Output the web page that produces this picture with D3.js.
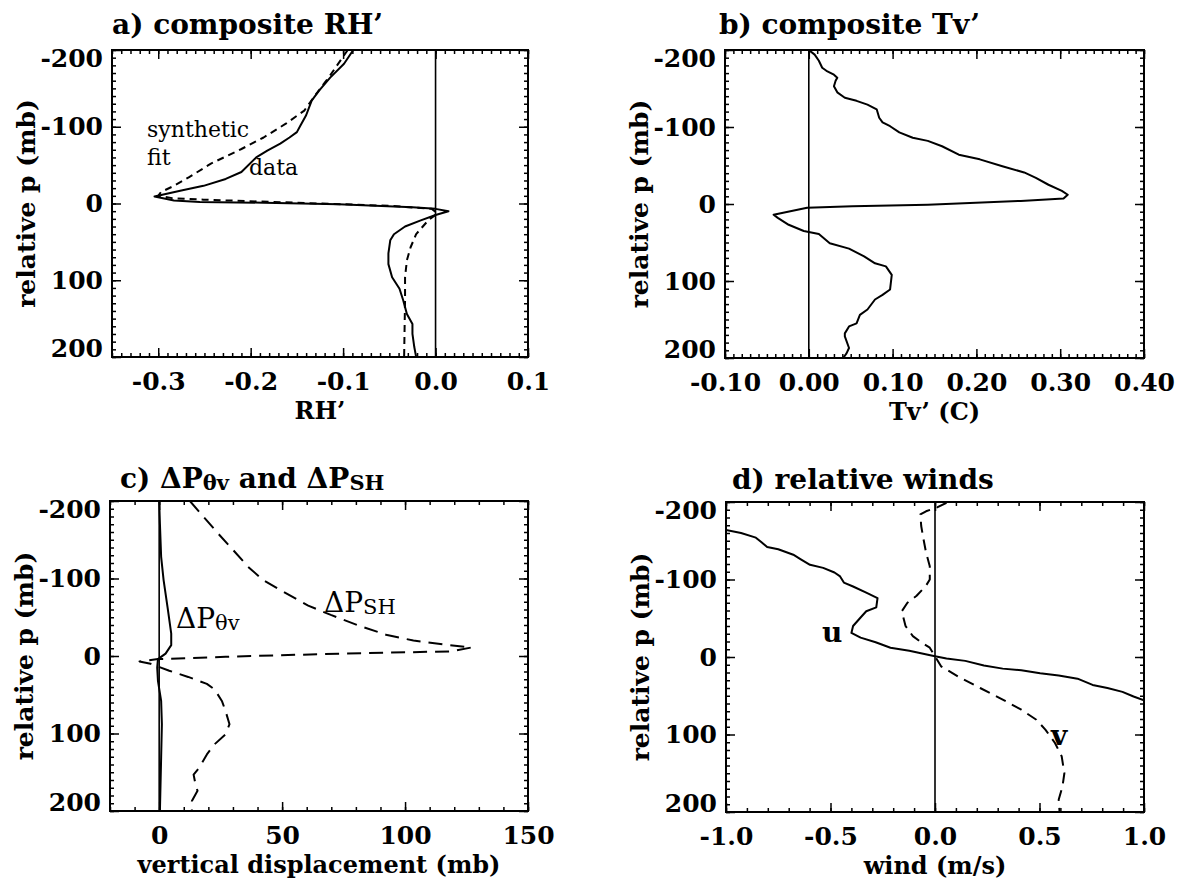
<!DOCTYPE html>
<html>
<head>
<meta charset="utf-8">
<script src="https://cdn.jsdelivr.net/npm/d3@7"></script>
<style>
  body { margin: 0; background: #fff; }
  svg { display: block; }
  text { font-family: "DejaVu Serif", "Liberation Serif", serif; fill: #000; }
</style>
</head>
<body>
<svg id="fig" width="1178" height="886"></svg>
<script>
// ---- pressure axis (shared by all four panels) ----
const pMajor = [-200, -100, 0, 100, 200];
const pLabels = ["-200", "-100", "0", "100", "200"];

// ---- a) composite RH' : [RH', relative p] ----
const rhData = [[-0.089,-200],[-0.099,-182],[-0.114,-164],[-0.126,-147],[-0.134,-134],[-0.140,-115],
  [-0.146,-102],[-0.150,-93],[-0.158,-86],[-0.168,-78],[-0.182,-69],[-0.194,-60],[-0.210,-41],
  [-0.227,-32],[-0.251,-23],[-0.275,-17],[-0.304,-9],[-0.283,-4],[-0.255,-2],[-0.186,-1],
  [-0.105,1],[-0.025,5],[0,7],[0.014,10],[0,15],[-0.016,22],[-0.033,30],[-0.045,40],[-0.049,48],
  [-0.051,65],[-0.051,79],[-0.047,96],[-0.039,111],[-0.035,126],[-0.031,144],[-0.025,157],
  [-0.025,170],[-0.023,187],[-0.021,200]];
const rhFit = [[-0.095,-200],[-0.114,-167],[-0.132,-138],[-0.142,-121],[-0.162,-104],[-0.186,-86],
  [-0.210,-71],[-0.243,-52],[-0.267,-34],[-0.283,-23],[-0.297,-15],[-0.300,-10],[-0.285,-7],
  [-0.251,-5],[-0.150,-1],[-0.050,3],[-0.004,7],[0.002,13],[-0.008,22],[-0.021,40],[-0.027,57],
  [-0.031,74],[-0.033,96],[-0.033,126],[-0.034,200]];
const rhTicks = [-0.3, -0.2, -0.1, 0.0, 0.1];
const rhTickLabels = ["-0.3", "-0.2", "-0.1", "0.0", "0.1"];

// ---- b) composite Tv' : [Tv' (C), relative p] ----
const tvData = [[0,-200],[0.007,-194],[0.012,-186],[0.016,-177],[0.021,-173],[0.030,-168],[0.034,-164],
  [0.032,-160],[0.030,-153],[0.034,-145],[0.043,-138],[0.057,-134],[0.070,-129],[0.081,-123],
  [0.084,-112],[0.088,-106],[0.097,-101],[0.108,-93],[0.124,-86],[0.142,-82],[0.159,-75],
  [0.179,-64],[0.204,-58],[0.231,-49],[0.257,-41],[0.271,-34],[0.286,-25],[0.302,-17],[0.309,-12],
  [0.304,-7],[0.253,-4],[0.142,1],[0.052,3],[-0.002,5],[-0.042,14],[-0.037,18],[-0.024,27],
  [-0.006,35],[0.012,39],[0.025,51],[0.048,58],[0.066,68],[0.079,77],[0.092,81],[0.099,92],
  [0.097,111],[0.088,118],[0.079,124],[0.070,137],[0.061,144],[0.057,155],[0.048,159],[0.043,168],
  [0.043,172],[0.048,187],[0.045,194],[0.041,200]];
const tvTicks = [-0.10, 0.00, 0.10, 0.20, 0.30, 0.40];
const tvTickLabels = ["-0.10", "0.00", "0.10", "0.20", "0.30", "0.40"];

// ---- c) vertical displacements (mb) : [displacement, relative p] ----
const dpThetaV = [[0,-200],[0.3,-171],[0.8,-128],[1.8,-98],[3.4,-63],[4.9,-29],[4.9,-14],[2.6,-3],
  [-0.5,4],[-0.8,15],[-0.5,32],[0.8,58],[1.1,88],[0.8,131],[0.3,200]];
const dpSH = [[12.5,-200],[17.9,-180],[24,-158],[30,-137],[36.2,-115],[42.3,-98],[51.5,-81],[60.6,-65],
  [69.8,-53],[80.5,-40],[92.7,-27],[103.4,-20],[115.6,-15],[127,-11],[118.7,-6],[72.9,-3],[27,1],
  [-0.5,4],[-8,7],[-3.5,10],[4.1,19],[11.8,27],[19.4,36],[22.5,43],[25.5,58],[27,71],[28.6,88],
  [27,101],[22.5,114],[19.4,127],[16.3,144],[14,153],[14.8,166],[15.6,174],[13.3,187],[13.3,200]];
const dpTicks = [0, 50, 100, 150];
const dpTickLabels = ["0", "50", "100", "150"];

// ---- d) relative winds (m/s) : [wind, relative p] ----
const uWind = [[-1.0,-164],[-0.928,-160],[-0.857,-154],[-0.830,-148],[-0.803,-142],[-0.750,-139],
  [-0.678,-132],[-0.642,-126],[-0.598,-119],[-0.535,-115],[-0.481,-109],[-0.454,-104],[-0.436,-96],
  [-0.392,-91],[-0.329,-83],[-0.275,-76],[-0.281,-64],[-0.329,-59],[-0.356,-51],[-0.392,-40],
  [-0.400,-31],[-0.356,-25],[-0.284,-19],[-0.213,-12],[-0.123,-8],[-0.034,-3],[0,-1],[0.055,2],
  [0.145,5],[0.234,11],[0.324,15],[0.413,17],[0.503,21],[0.592,24],[0.682,28],[0.754,36],
  [0.825,40],[0.897,45],[0.950,51],[1.0,56]];
const vWind = [[0.055,-199],[0.010,-193],[-0.043,-188],[-0.070,-184],[-0.066,-169],[-0.055,-152],
  [-0.043,-135],[-0.025,-117],[-0.025,-100],[-0.043,-92],[-0.088,-79],[-0.132,-70],[-0.159,-59],
  [-0.141,-40],[-0.106,-27],[-0.061,-18],[-0.025,-12],[0,-1],[0.029,12],[0.109,25],[0.216,40],
  [0.324,55],[0.413,68],[0.485,81],[0.529,94],[0.574,111],[0.606,128],[0.619,150],[0.610,167],
  [0.592,184],[0.596,200]];
const windTicks = [-1.0, -0.5, 0.0, 0.5, 1.0];
const windTickLabels = ["-1.0", "-0.5", "0.0", "0.5", "1.0"];

const svg = d3.select("#fig");
const MAJOR = 9, MINOR = 4;

function minorTicks(lo, hi, step) {
  const n = Math.round((hi - lo) / step);
  return d3.range(n + 1).map(i => +(lo + i * step).toFixed(6));
}

function panel(cfg) {
  const g = svg.append("g");
  const x = d3.scaleLinear().domain(cfg.xDomain).range([cfg.left, cfg.right]);
  const y = d3.scaleLinear().domain([-200, 200]).range([cfg.top, cfg.bottom]);
  const clipId = "clip-" + cfg.id;
  svg.append("clipPath").attr("id", clipId).append("rect")
    .attr("x", cfg.left).attr("y", cfg.top)
    .attr("width", cfg.right - cfg.left).attr("height", cfg.bottom - cfg.top);

  const plot = g.append("g").attr("clip-path", `url(#${clipId})`);
  // zero reference line
  plot.append("line")
    .attr("x1", x(0)).attr("x2", x(0)).attr("y1", y(-200)).attr("y2", y(200))
    .attr("stroke", "#000").attr("stroke-width", 1.6);

  const line = d3.line().x(d => x(d[0])).y(d => y(d[1]));
  cfg.series.forEach(s => {
    plot.append("path").datum(s.data)
      .attr("d", line).attr("fill", "none").attr("stroke", "#000")
      .attr("stroke-width", s.width || 2).attr("stroke-linejoin", "round")
      .attr("stroke-dasharray", s.dash || null);
  });

  const xMinor = minorTicks(cfg.xDomain[0], cfg.xDomain[1], cfg.xMinorStep);
  const yMinor = minorTicks(-200, 200, 10);

  function styleAxis(sel) {
    sel.select(".domain").remove();
    sel.selectAll(".tick line").attr("stroke-width", 1.5);
  }
  // bottom / top
  g.append("g").attr("transform", `translate(0,${cfg.bottom})`)
    .call(d3.axisBottom(x).tickValues(xMinor).tickSize(-MINOR).tickFormat("")).call(styleAxis);
  g.append("g").attr("transform", `translate(0,${cfg.top})`)
    .call(d3.axisTop(x).tickValues(xMinor).tickSize(-MINOR).tickFormat("")).call(styleAxis);
  g.append("g").attr("transform", `translate(0,${cfg.top})`)
    .call(d3.axisTop(x).tickValues(cfg.xTicks).tickSize(-MAJOR).tickFormat("")).call(styleAxis);
  const xb = g.append("g").attr("transform", `translate(0,${cfg.bottom})`)
    .call(d3.axisBottom(x).tickValues(cfg.xTicks).tickSize(-MAJOR).tickPadding(15)
      .tickFormat((d, i) => cfg.xLabels[i]))
    .call(styleAxis);
  xb.selectAll("text").attr("font-size", 25).attr("font-weight", "bold");

  // left / right
  g.append("g").attr("transform", `translate(${cfg.right},0)`)
    .call(d3.axisRight(y).tickValues(yMinor).tickSize(-MINOR).tickFormat("")).call(styleAxis);
  g.append("g").attr("transform", `translate(${cfg.right},0)`)
    .call(d3.axisRight(y).tickValues(pMajor).tickSize(-MAJOR).tickFormat("")).call(styleAxis);
  g.append("g").attr("transform", `translate(${cfg.left},0)`)
    .call(d3.axisLeft(y).tickValues(yMinor).tickSize(-MINOR).tickFormat("")).call(styleAxis);
  const yl = g.append("g").attr("transform", `translate(${cfg.left},0)`)
    .call(d3.axisLeft(y).tickValues(pMajor).tickSize(-MAJOR).tickPadding(9)
      .tickFormat((d, i) => pLabels[i]))
    .call(styleAxis);
  yl.selectAll("text").attr("font-size", 25).attr("font-weight", "bold")
    .attr("y", d => d === -200 ? 8 : d === 200 ? -9 : 0);

  // frame
  g.append("rect")
    .attr("x", cfg.left).attr("y", cfg.top)
    .attr("width", cfg.right - cfg.left).attr("height", cfg.bottom - cfg.top)
    .attr("fill", "none").attr("stroke", "#000").attr("stroke-width", 2);

  // axis titles
  g.append("text")
    .attr("transform", `translate(${cfg.left - 86},${(cfg.top + cfg.bottom) / 2}) rotate(-90)`)
    .attr("text-anchor", "middle").attr("dy", "0.35em")
    .attr("font-size", 25).attr("font-weight", "bold")
    .text("relative p (mb)");
  g.append("text")
    .attr("x", (cfg.left + cfg.right) / 2).attr("y", cfg.bottom + 62)
    .attr("text-anchor", "middle")
    .attr("font-size", 24).attr("font-weight", "bold")
    .text(cfg.xTitle);

  // panel title
  const t = g.append("text").attr("x", cfg.titleX).attr("y", cfg.titleY)
    .attr("font-size", 28).attr("font-weight", "bold");
  cfg.title.forEach(part => {
    const ts = t.append("tspan").text(part.t);
    if (part.sub) ts.attr("font-size", "75%").attr("dy", 2);
    else if (part.back) ts.attr("dy", -2);
  });
  return { g, x, y };
}

// a) composite RH'
const pa = panel({
  id: "a", left: 112, right: 528, top: 50, bottom: 357,
  xDomain: [-0.35, 0.1], xTicks: rhTicks, xLabels: rhTickLabels, xMinorStep: 0.01,
  xTitle: "RH\u2019", titleX: 112, titleY: 34,
  title: [{ t: "a) composite RH\u2019" }],
  series: [{ data: rhData }, { data: rhFit, dash: "7,5" }]
});
pa.g.append("text").attr("x", 147).attr("y", 137).attr("font-size", 22).text("synthetic");
pa.g.append("text").attr("x", 147).attr("y", 165).attr("font-size", 22).text("fit");
pa.g.append("text").attr("x", 249).attr("y", 175).attr("font-size", 22).text("data");

// b) composite Tv'
panel({
  id: "b", left: 725, right: 1144, top: 50, bottom: 358,
  xDomain: [-0.1, 0.4], xTicks: tvTicks, xLabels: tvTickLabels, xMinorStep: 0.01,
  xTitle: "Tv\u2019 (C)", titleX: 719, titleY: 34,
  title: [{ t: "b) composite Tv\u2019" }],
  series: [{ data: tvData }]
});

// c) displacement profiles
const pc = panel({
  id: "c", left: 110, right: 528, top: 501, bottom: 811,
  xDomain: [-20, 150], xTicks: dpTicks, xLabels: dpTickLabels, xMinorStep: 10,
  xTitle: "vertical displacement (mb)", titleX: 120, titleY: 488,
  title: [{ t: "c) \u0394P" }, { t: "\u03b8v", sub: true }, { t: " and \u0394P", back: true }, { t: "SH", sub: true }],
  series: [{ data: dpThetaV }, { data: dpSH, dash: "14,8" }]
});
function subLabel(g, x, y, main, sub) {
  const t = g.append("text").attr("x", x).attr("y", y).attr("font-size", 28);
  t.append("tspan").text(main);
  t.append("tspan").attr("font-size", "75%").attr("dy", 2).text(sub);
}
subLabel(pc.g, 176, 628, "\u0394P", "\u03b8v");
subLabel(pc.g, 324, 612, "\u0394P", "SH");

// d) relative winds
const pd = panel({
  id: "d", left: 726, right: 1144, top: 502, bottom: 812,
  xDomain: [-1, 1], xTicks: windTicks, xLabels: windTickLabels, xMinorStep: 0.1,
  xTitle: "wind (m/s)", titleX: 732, titleY: 489,
  title: [{ t: "d) relative winds" }],
  series: [{ data: uWind }, { data: vWind, dash: "11,7" }]
});
pd.g.append("text").attr("x", 822).attr("y", 642).attr("font-size", 28).attr("font-weight", "bold").text("u");
pd.g.append("text").attr("x", 1051).attr("y", 745).attr("font-size", 28).attr("font-weight", "bold").text("v");
</script>
</body>
</html>
